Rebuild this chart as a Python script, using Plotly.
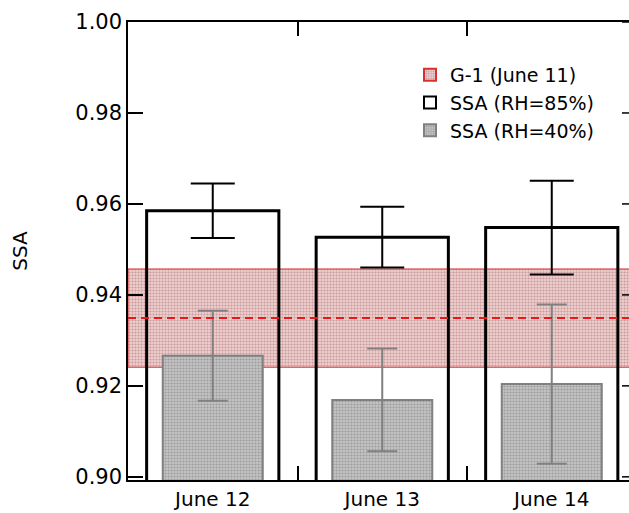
import plotly.graph_objects as go

categories = ["June 12", "June 13", "June 14"]
ssa_rh85 = [0.9585, 0.9527, 0.9548]
ssa_rh85_err = [0.0060, 0.0067, 0.0103]
ssa_rh40 = [0.9266, 0.9169, 0.9204]
ssa_rh40_err = [0.0099, 0.0113, 0.0175]
g1_mean = 0.9349
g1_std = 0.0108
y_ticks = [0.90, 0.92, 0.94, 0.96, 0.98, 1.00]

FONT = "DejaVu Sans"
W, H = 629, 513
ML, MR, MT, MB = 128, 0, 22, 33
plot_w = W - ML - MR

fig = go.Figure()

# G-1 band (June 11): mean +/- std across the full axis
fig.add_trace(go.Bar(
    x=["June 13"], y=[2 * g1_std], base=[g1_mean - g1_std], width=[3],
    name="G-1 (June 11)",
    marker=dict(color="#ecc8c8", line=dict(color="#d83030", width=1),
                pattern=dict(shape=".", bgcolor="#efcfcf", fgcolor="#c89a9a",
                             size=3, solidity=0.4, fillmode="replace")),
    hoverinfo="skip",
))

fig.add_trace(go.Bar(
    x=categories, y=ssa_rh85, width=0.78, name="SSA (RH=85%)",
    marker=dict(color="rgba(255,255,255,0)", line=dict(color="black", width=3)),
    error_y=dict(type="data", array=ssa_rh85_err, color="black", thickness=2, width=22),
))

fig.add_trace(go.Bar(
    x=categories, y=ssa_rh40, width=0.59, name="SSA (RH=40%)",
    marker=dict(color="#bcbcbc", line=dict(color="#808080", width=2),
                pattern=dict(shape=".", bgcolor="#c4c4c4", fgcolor="#9c9c9c",
                             size=3, solidity=0.4, fillmode="replace")),
    error_y=dict(type="data", array=ssa_rh40_err, color="#808080", thickness=2, width=15),
))

# dashed mean line of G-1
fig.add_shape(type="line", xref="paper", x0=0, x1=1, yref="y", y0=g1_mean, y1=g1_mean,
              line=dict(color="#e81818", width=2, dash="8px,5px"), layer="above")

# right-side mirrored ticks (axis edge lies just beyond the picture)
for t in y_ticks:
    fig.add_shape(type="line", xref="paper", x0=1 - 7 / plot_w, x1=1, yref="y", y0=t, y1=t,
                  line=dict(color="black", width=1.5), layer="above")

fig.update_layout(
    width=W, height=H,
    margin=dict(l=ML, r=MR, t=MT, b=MB, pad=0),
    paper_bgcolor="white", plot_bgcolor="white",
    barmode="overlay",
    font=dict(family=FONT, size=20, color="black"),
    showlegend=True,
    legend=dict(x=(410 - ML) / plot_w, xanchor="left", y=1 - (56 - MT) / (H - MT - MB),
                yanchor="top", bgcolor="rgba(0,0,0,0)", font=dict(family=FONT, size=19),
                tracegroupgap=0, itemsizing="constant"),
    xaxis=dict(
        type="category", categoryorder="array", categoryarray=categories,
        range=[-0.5, -0.5 + plot_w / 169.5],
        showline=True, linecolor="black", linewidth=1.5, mirror="ticks",
        ticks="inside", ticklen=14, tickwidth=1.5, tickcolor="black",
        tickson="boundaries", showgrid=False, zeroline=False,
        tickfont=dict(family=FONT, size=20),
    ),
    yaxis=dict(
        range=[0.8993, 1.0], tickvals=y_ticks, tickformat=".2f",
        showline=True, linecolor="black", linewidth=1.5, mirror=False,
        ticks="inside", ticklen=15, tickwidth=1.5, tickcolor="black",
        showgrid=False, zeroline=False,
        title=dict(text="SSA", font=dict(family=FONT, size=20), standoff=42),
        tickfont=dict(family=FONT, size=21),
    ),
)

fig.write_html("out.html")
